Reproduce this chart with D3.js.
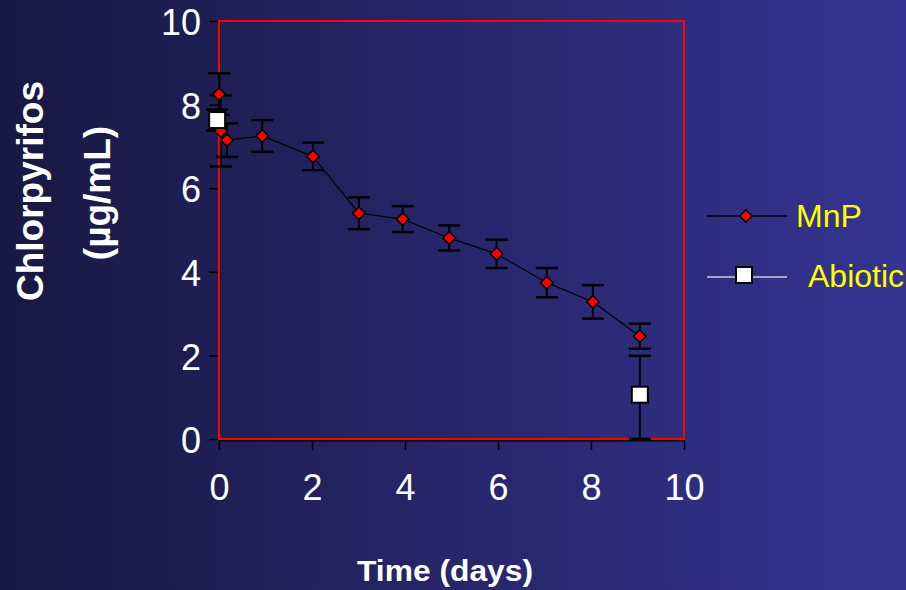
<!DOCTYPE html>
<html>
<head>
<meta charset="utf-8">
<script src="https://cdn.jsdelivr.net/npm/d3@7"></script>
<style>
  html, body { margin: 0; padding: 0; background: #1a1844; }
  svg { display: block; font-family: "Liberation Sans", Arial, sans-serif; }
</style>
</head>
<body>
<svg id="chart" width="906" height="590"></svg>
<script>
// ── Data ─────────────────────────────────────────────────────────────────
const mnpTime  = [0, 0.04, 0.17, 0.93, 2.02, 3.01, 3.95, 4.95, 5.97, 7.05, 8.04, 9.05];
const mnpConc  = [8.25, 7.37, 7.15, 7.25, 6.76, 5.40, 5.26, 4.81, 4.43, 3.74, 3.28, 2.46];
const mnpErr   = [0.50, 0.85, 0.40, 0.38, 0.33, 0.38, 0.31, 0.30, 0.34, 0.35, 0.40, 0.30];

const abioTime  = [-0.04, 9.05];
const abioConc  = [7.63, 1.06];
const abioErrUp = [0.25, 0.93];
const abioErrDn = [0.25, 1.06];

const xTicks = [0, 2, 4, 6, 8, 10];
const yTicks = [0, 2, 4, 6, 8, 10];

// ── Layout ───────────────────────────────────────────────────────────────
const svg = d3.select('#chart');
const W = 906, H = 590;
const plot = { left: 219, right: 684, top: 21, bottom: 439 };

// background gradient: dark navy on the left → brighter blue on the right
const defs = svg.append('defs');
const bg = defs.append('linearGradient').attr('id', 'bg-grad');
bg.append('stop').attr('offset', '0%').attr('stop-color', '#191842');
bg.append('stop').attr('offset', '100%').attr('stop-color', '#343492');
svg.append('rect').attr('width', W).attr('height', H).attr('fill', 'url(#bg-grad)');

const x = d3.scaleLinear().domain([0, 10]).range([plot.left, plot.right]);
const y = d3.scaleLinear().domain([0, 10]).range([plot.bottom, plot.top]);

// ── Axes ─────────────────────────────────────────────────────────────────
const xAxis = svg.append('g')
  .attr('transform', `translate(0, ${plot.bottom + 1})`)
  .call(d3.axisBottom(x).tickValues(xTicks).tickSize(10).tickSizeOuter(0).tickPadding(24));
const yAxis = svg.append('g')
  .attr('transform', `translate(${plot.left}, 0)`)
  .call(d3.axisLeft(y).tickValues(yTicks).tickSize(10).tickSizeOuter(0).tickPadding(8));

[xAxis, yAxis].forEach(g => {
  g.select('.domain').attr('stroke', '#000').attr('stroke-width', 2);
  g.selectAll('.tick line').attr('stroke', '#000').attr('stroke-width', 1.5);
  g.selectAll('.tick text')
    .attr('fill', '#fff').attr('font-size', 36)
    .attr('font-family', '"Liberation Sans", Arial, sans-serif');
});
xAxis.selectAll('.tick text').attr('dy', '0.71em');
yAxis.selectAll('.tick text').attr('dy', '0.38em');

// red plot frame
svg.append('rect')
  .attr('x', plot.left).attr('y', plot.top)
  .attr('width', plot.right - plot.left).attr('height', plot.bottom - plot.top)
  .attr('fill', 'none').attr('stroke', '#ff0000').attr('stroke-width', 2);

// ── Error bars (clipped at the x axis) ───────────────────────────────────
function errorBars(times, vals, up, dn, cls) {
  const g = svg.append('g').attr('class', cls);
  times.forEach((t, i) => {
    const cx = x(t);
    const lo = Math.max(0, vals[i] - dn[i]);
    const hi = vals[i] + up[i];
    g.append('line')
      .attr('x1', cx).attr('x2', cx)
      .attr('y1', y(lo)).attr('y2', y(hi))
      .attr('stroke', '#000').attr('stroke-width', 2);
    [lo, hi].forEach(v => {
      g.append('line')
        .attr('x1', cx - 11).attr('x2', cx + 11)
        .attr('y1', y(v)).attr('y2', y(v))
        .attr('stroke', '#000').attr('stroke-width', 2.5);
    });
  });
}
errorBars(mnpTime, mnpConc, mnpErr, mnpErr, 'mnp-err');
errorBars(abioTime, abioConc, abioErrUp, abioErrDn, 'abio-err');

// ── MnP line + diamonds ──────────────────────────────────────────────────
const mnpPts = mnpTime.map((t, i) => [t, mnpConc[i]]);
svg.append('path')
  .datum(mnpPts)
  .attr('fill', 'none').attr('stroke', '#000').attr('stroke-width', 1.2)
  .attr('d', d3.line().x(d => x(d[0])).y(d => y(d[1])));

const diamond = d3.symbol().type(d3.symbolDiamond2).size(100);
svg.append('g').selectAll('path')
  .data(mnpPts).join('path')
  .attr('transform', d => `translate(${x(d[0])}, ${y(d[1])})`)
  .attr('d', diamond)
  .attr('fill', '#ff0000').attr('stroke', '#000').attr('stroke-width', 1.5);

// ── Abiotic squares ──────────────────────────────────────────────────────
const abioPts = abioTime.map((t, i) => [t, abioConc[i]]);
svg.append('g').selectAll('rect')
  .data(abioPts).join('rect')
  .attr('x', d => x(d[0]) - 8).attr('y', d => y(d[1]) - 8)
  .attr('width', 16).attr('height', 16)
  .attr('fill', '#fff').attr('stroke', '#000').attr('stroke-width', 2);

// ── Axis titles ──────────────────────────────────────────────────────────
svg.append('text')
  .attr('transform', 'translate(43, 191) rotate(-90)')
  .attr('text-anchor', 'middle')
  .attr('fill', '#fff').attr('font-size', 37).attr('font-weight', 'bold')
  .text('Chlorpyrifos');
svg.append('text')
  .attr('transform', 'translate(110, 193) rotate(-90)')
  .attr('text-anchor', 'middle')
  .attr('fill', '#fff').attr('font-size', 37).attr('font-weight', 'bold')
  .text('(µg/mL)');
svg.append('text')
  .attr('x', 357).attr('y', 581)
  .attr('textLength', 176).attr('lengthAdjust', 'spacingAndGlyphs')
  .attr('fill', '#fff').attr('font-size', 30).attr('font-weight', 'bold')
  .text('Time (days)');

// ── Legend ───────────────────────────────────────────────────────────────
const leg = svg.append('g');
leg.append('line')
  .attr('x1', 707).attr('x2', 787).attr('y1', 216).attr('y2', 216)
  .attr('stroke', '#000').attr('stroke-width', 1.5);
leg.append('path')
  .attr('transform', 'translate(746, 216)')
  .attr('d', diamond)
  .attr('fill', '#ff0000').attr('stroke', '#000').attr('stroke-width', 1.5);
leg.append('text')
  .attr('x', 796).attr('y', 227)
  .attr('fill', '#ffff00').attr('font-size', 32)
  .text('MnP');

leg.append('line')
  .attr('x1', 707).attr('x2', 787).attr('y1', 277).attr('y2', 277)
  .attr('stroke', '#c8c8e6').attr('stroke-width', 1.5);
leg.append('rect')
  .attr('x', 736).attr('y', 267).attr('width', 16).attr('height', 16)
  .attr('fill', '#fff').attr('stroke', '#000').attr('stroke-width', 2);
leg.append('text')
  .attr('x', 808).attr('y', 287)
  .attr('fill', '#ffff00').attr('font-size', 32)
  .text('Abiotic');
</script>
</body>
</html>
